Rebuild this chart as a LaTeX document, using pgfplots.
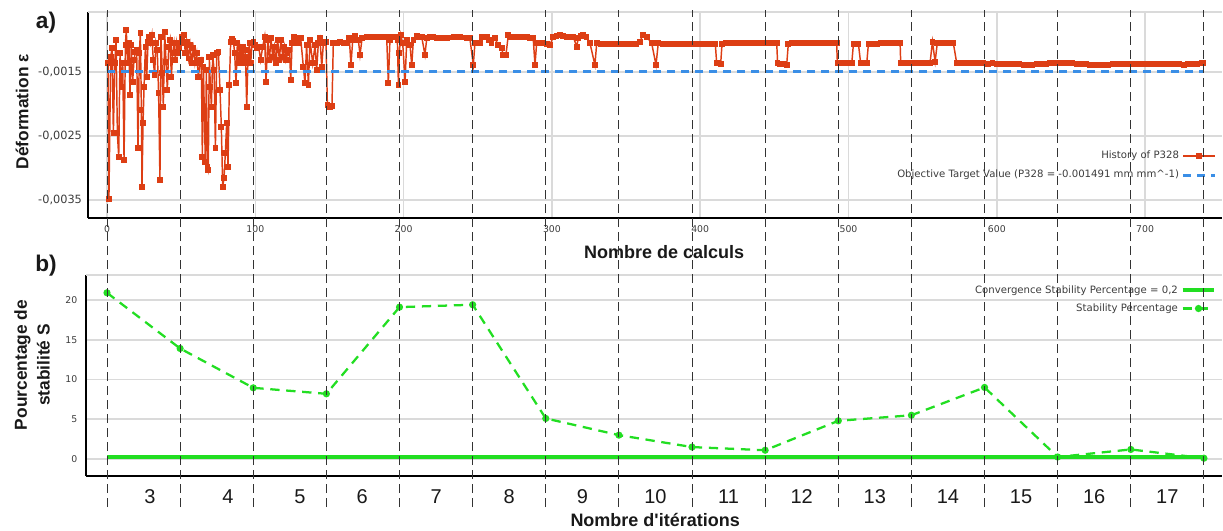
\documentclass[border=0pt]{standalone}
\usepackage{pgfplots}
\pgfplotsset{compat=1.18}
\usepackage{pgfplotstable}
\usepackage{fontspec}
\setmainfont{Liberation Sans}
\newfontfamily\dejavu{DejaVu Sans}
\definecolor{histred}{RGB}{221,62,20}
\definecolor{tgtblue}{RGB}{58,142,230}
\definecolor{stabgreen}{RGB}{34,222,34}
\definecolor{gridgray}{RGB}{218,218,218}
\definecolor{ticktext}{RGB}{60,60,60}
\definecolor{titletext}{RGB}{25,25,25}

\pgfplotstableread{
x y
0.7 -0.001365
1.3 -0.003489
2.5 -0.001260
3.4 -0.001130
4.3 -0.002458
5.2 -0.001365
6.1 -0.001000
7.0 -0.002458
7.9 -0.002823
8.8 -0.001208
9.7 -0.001729
10.6 -0.001365
11.5 -0.002875
12.4 -0.001078
13.0 -0.000844
13.9 -0.001365
14.8 -0.001052
15.5 -0.001859
16.4 -0.001078
17.3 -0.001651
18.2 -0.001313
19.1 -0.001182
20.0 -0.001156
20.9 -0.002693
21.8 -0.001208
22.5 -0.000896
23.2 -0.002094
23.6 -0.003292
24.3 -0.002302
25.0 -0.001729
25.9 -0.001104
26.8 -0.001573
27.7 -0.001026
28.5 -0.000948
29.4 -0.001052
30.3 -0.000922
31.2 -0.001313
32.1 -0.001547
33.0 -0.001052
33.9 -0.001156
34.8 -0.001833
35.7 -0.003187
36.4 -0.000948
37.3 -0.001521
38.0 -0.002042
38.9 -0.000880
39.8 -0.001339
40.7 -0.001781
41.6 -0.001104
42.5 -0.001000
43.4 -0.001573
44.3 -0.001208
45.2 -0.001052
46.1 -0.001313
47.0 -0.001052
47.9 -0.001208
48.8 -0.001130
49.7 -0.001052
50.6 -0.000948
51.9 -0.000922
52.8 -0.001208
53.7 -0.001026
54.9 -0.001287
56.0 -0.001078
57.1 -0.001365
58.2 -0.001130
59.3 -0.001365
60.5 -0.001208
61.6 -0.001573
62.7 -0.001365
63.6 -0.001313
64.3 -0.002823
65.0 -0.001417
65.6 -0.002094
66.3 -0.002901
67.0 -0.001469
67.7 -0.002979
68.3 -0.003031
69.0 -0.001260
69.7 -0.001729
70.4 -0.002042
71.3 -0.001234
72.2 -0.001469
73.1 -0.002693
74.0 -0.001208
75.1 -0.001182
76.2 -0.001781
77.1 -0.002354
78.0 -0.003292
78.9 -0.003161
79.8 -0.002771
80.7 -0.002302
81.6 -0.002979
82.5 -0.001703
83.4 -0.001026
84.3 -0.000990
85.2 -0.001010
86.1 -0.001208
87.0 -0.001677
87.9 -0.001052
88.8 -0.001365
89.7 -0.001130
90.6 -0.001287
91.5 -0.001104
92.4 -0.001365
93.3 -0.001156
94.2 -0.002042
95.1 -0.001260
96.0 -0.001052
96.9 -0.001365
97.8 -0.001052
98.7 -0.001026
99.8 -0.001078
100.9 -0.001130
102.3 -0.001104
103.6 -0.001313
105.0 -0.001104
106.3 -0.000948
107.2 -0.001651
108.4 -0.001000
109.5 -0.001313
110.6 -0.000974
111.7 -0.001260
112.9 -0.001104
114.0 -0.001365
115.1 -0.001000
116.2 -0.001313
117.3 -0.001000
118.5 -0.001260
119.6 -0.001104
120.7 -0.001313
121.8 -0.001208
123.0 -0.001156
123.9 -0.001625
124.8 -0.001052
125.9 -0.000948
127.5 -0.000974
129.0 -0.001052
130.6 -0.000974
132.4 -0.001417
133.5 -0.001677
134.6 -0.001078
135.8 -0.001703
136.9 -0.001000
138.7 -0.001365
140.3 -0.001078
141.4 -0.001469
142.5 -0.001052
143.6 -0.000974
144.8 -0.001417
145.9 -0.001052
147.7 -0.001026
148.6 -0.002016
150.4 -0.002042
151.7 -0.002030
152.6 -0.001052
154.9 -0.001052
157.1 -0.001026
159.4 -0.001052
161.6 -0.001052
163.4 -0.000974
164.5 -0.001391
165.7 -0.001000
167.2 -0.000940
169.5 -0.001000
170.6 -0.001234
172.0 -0.000974
175.1 -0.000948
177.3 -0.000948
179.6 -0.000948
181.8 -0.000948
184.1 -0.000948
186.3 -0.000958
188.6 -0.000958
189.7 -0.001677
190.8 -0.001000
192.5 -0.000958
194.2 -0.000948
195.8 -0.001000
196.5 -0.001703
197.1 -0.001208
198.0 -0.000922
199.4 -0.001052
201.0 -0.001651
202.1 -0.001000
204.3 -0.001078
205.5 -0.001391
206.6 -0.001000
208.8 -0.000940
210.5 -0.000948
212.2 -0.000948
214.4 -0.001234
215.6 -0.000974
218.0 -0.000948
220.1 -0.000948
222.4 -0.000974
224.6 -0.000974
226.9 -0.000974
229.1 -0.000974
231.5 -0.000960
234.0 -0.000948
236.0 -0.000948
238.0 -0.000948
240.2 -0.000960
242.4 -0.000974
244.7 -0.000974
247.0 -0.001391
248.1 -0.001052
250.0 -0.001052
251.5 -0.001052
252.6 -0.000948
254.3 -0.000948
256.0 -0.000948
257.6 -0.001000
259.3 -0.001052
261.6 -0.000974
263.8 -0.001078
266.1 -0.001130
267.2 -0.001234
269.0 -0.001234
270.6 -0.000922
272.3 -0.000948
274.0 -0.000948
276.2 -0.000948
278.5 -0.000948
280.7 -0.000958
283.0 -0.000958
285.2 -0.000974
287.4 -0.000974
288.6 -0.001391
289.7 -0.001052
292.0 -0.001052
294.2 -0.001052
296.5 -0.001063
298.7 -0.001078
300.9 -0.000948
303.1 -0.000935
305.4 -0.000922
307.6 -0.000935
309.9 -0.000948
312.1 -0.000948
314.4 -0.000948
316.7 -0.001104
317.8 -0.000974
319.5 -0.000935
321.2 -0.000922
323.4 -0.000948
325.7 -0.001052
329.0 -0.001391
330.2 -0.001052
333.0 -0.001063
336.0 -0.001063
339.0 -0.001063
342.0 -0.001063
345.0 -0.001063
348.0 -0.001063
351.0 -0.001063
354.0 -0.001063
357.0 -0.001063
359.4 -0.001026
361.2 -0.000922
363.9 -0.000948
367.3 -0.001052
370.2 -0.001391
371.7 -0.001052
374.5 -0.001063
377.5 -0.001063
380.5 -0.001063
383.5 -0.001063
386.5 -0.001063
389.5 -0.001063
392.5 -0.001063
395.5 -0.001063
398.5 -0.001063
401.5 -0.001063
404.5 -0.001063
407.5 -0.001063
410.2 -0.001063
411.1 -0.001365
413.8 -0.001375
414.7 -0.001063
417.5 -0.001052
420.5 -0.001052
423.5 -0.001052
426.5 -0.001052
429.5 -0.001052
432.5 -0.001052
435.5 -0.001052
438.5 -0.001052
441.5 -0.001052
444.5 -0.001052
447.5 -0.001052
450.5 -0.001052
451.6 -0.001052
452.2 -0.001365
454.0 -0.001370
456.0 -0.001375
458.3 -0.001391
459.4 -0.001063
462.0 -0.001052
465.0 -0.001052
468.0 -0.001052
471.0 -0.001052
474.0 -0.001052
477.0 -0.001052
480.0 -0.001052
483.0 -0.001052
486.0 -0.001052
489.0 -0.001052
492.0 -0.001052
492.5 -0.001365
495.5 -0.001365
498.5 -0.001365
502.2 -0.001365
503.3 -0.001063
506.7 -0.001063
508.2 -0.001365
510.3 -0.001365
512.3 -0.001365
513.4 -0.001063
516.0 -0.001058
519.0 -0.001058
522.0 -0.001052
525.0 -0.001052
528.0 -0.001052
531.0 -0.001052
534.8 -0.001052
535.2 -0.001365
538.0 -0.001365
541.0 -0.001365
544.0 -0.001365
547.0 -0.001365
550.0 -0.001365
553.0 -0.001365
555.0 -0.001354
556.6 -0.001026
558.4 -0.001339
559.9 -0.001042
562.5 -0.001052
565.5 -0.001052
568.5 -0.001052
570.7 -0.001052
573.0 -0.001365
576.0 -0.001365
579.0 -0.001365
582.0 -0.001365
585.0 -0.001365
588.0 -0.001365
589.8 -0.001354
590.9 -0.001365
594.0 -0.001370
597.0 -0.001365
600.0 -0.001370
603.0 -0.001375
606.0 -0.001370
609.0 -0.001380
612.0 -0.001375
615.0 -0.001380
618.0 -0.001390
621.0 -0.001396
624.0 -0.001385
627.0 -0.001375
630.0 -0.001380
633.0 -0.001370
636.0 -0.001365
639.0 -0.001365
642.0 -0.001354
645.0 -0.001365
648.0 -0.001360
651.0 -0.001365
654.0 -0.001370
657.0 -0.001375
660.0 -0.001375
663.0 -0.001385
666.0 -0.001396
669.0 -0.001390
672.0 -0.001385
675.0 -0.001386
678.0 -0.001380
681.0 -0.001375
684.0 -0.001375
687.0 -0.001380
690.0 -0.001375
693.0 -0.001380
696.0 -0.001375
699.0 -0.001370
702.0 -0.001375
705.0 -0.001375
708.0 -0.001380
711.0 -0.001375
714.0 -0.001370
717.0 -0.001375
720.0 -0.001380
723.0 -0.001375
726.0 -0.001386
729.0 -0.001380
732.0 -0.001375
735.0 -0.001370
738.0 -0.001365
739.3 -0.001365
}\histdata

\pgfplotstableread{
x s
0 20.9
49.31 13.9
98.62 8.95
147.93 8.2
197.24 19.1
246.55 19.4
295.86 5.1
345.17 3.0
394.48 1.5
443.79 1.1
493.1 4.8
542.41 5.5
591.72 9.0
641.03 0.25
690.34 1.2
739.65 0.1
}\stabdata

\pgfplotsset{
  longlegend/.style={
    legend image code/.code={%
      \draw[mark repeat=2,mark phase=2,##1]
        plot coordinates {(0cm,0cm) (0.42cm,0cm) (0.84cm,0cm)};}%
  },
}

\begin{document}
\begin{tikzpicture}
\useasboundingbox (0pt,0pt) rectangle (917.25pt,-398.25pt);

% ---------- top axis a) ----------
\begin{axis}[
  at={(66pt,-163.5pt)}, anchor=south west,
  scale only axis, width=850.5pt, height=154.5pt,
  xmin=-12.81, xmax=751.85,
  ymin=-0.003781, ymax=-0.0005625,
  axis x line*=bottom, axis y line*=left,
  axis line style={line width=2.2pt, black, -},
  xtick={0,100,200,300,400,500,600,700},
  xticklabels={0,100,200,300,400,500,600,700},
  ytick={-0.0035,-0.0025,-0.0015},
  yticklabels={{-0,0035},{-0,0025},{-0,0015}},
  scaled y ticks=false, scaled x ticks=false,
  extra y ticks={-0.0005625}, extra y tick labels={},
  extra y tick style={grid=major},
  xmajorgrids, ymajorgrids,
  major grid style={gridgray, line width=1.2pt},
  major tick length=0pt,
  xticklabel style={font=\dejavu\fontsize{7}{8}\selectfont, text=ticktext, yshift=-2pt},
  yticklabel style={font=\dejavu\fontsize{8.5}{9}\selectfont, text=ticktext, xshift=-1pt},
  xlabel={Nombre de calculs},
  xlabel style={at={(axis description cs:0.508,-0.165)}, anchor=center,
    font=\bfseries\fontsize{13.5}{15}\selectfont, text=titletext},
  ylabel={Déformation ε},
  ylabel style={at={(axis description cs:-0.0582,0.515)}, anchor=center,
    font=\bfseries\fontsize{13}{15}\selectfont, text=titletext},
  legend plot pos=right,
  legend cell align=right,
  legend style={at={(axis description cs:0.9965,0.345)}, anchor=north east,
    draw=none, fill=none, font=\dejavu\fontsize{7.6}{8}\selectfont, text=ticktext,
    row sep=3pt, inner sep=1pt},
]
\addplot[histred, line width=1.1pt, mark=square*, mark size=1.6pt, mark options={solid}, longlegend]
  table[x=x, y=y] {\histdata};
\addlegendentry{History of P328}
\addplot[tgtblue, line width=2.2pt, dash pattern=on 6pt off 4.5pt, longlegend]
  coordinates {(0,-0.001491) (740,-0.001491)};
\addlegendentry{Objective Target Value (P328 = -0.001491 mm mm\textasciicircum-1)}
\end{axis}

% ---------- bottom axis b) ----------
\begin{axis}[
  at={(64.5pt,-357pt)}, anchor=south west,
  scale only axis, width=852pt, height=150.75pt,
  xmin=-14.16, xmax=751.85,
  ymin=-2.14, ymax=23.14,
  axis x line*=bottom, axis y line*=left,
  axis line style={line width=2.2pt, black, -},
  xtick={29.0,81.6,130.1,172.0,221.9,271.21,320.52,369.83,419.14,468.45,517.76,567.07,616.38,665.69,715.0},
  xticklabels={3,4,5,6,7,8,9,10,11,12,13,14,15,16,17},
  ytick={0,5,10,15,20},
  yticklabels={0,5,10,15,20},
  extra y ticks={23.14}, extra y tick labels={},
  extra y tick style={grid=major},
  ymajorgrids,
  major grid style={gridgray, line width=1.2pt},
  major tick length=0pt,
  xticklabel style={font=\fontsize{15}{16}\selectfont, text=titletext, yshift=-6.5pt},
  yticklabel style={font=\dejavu\fontsize{7}{8}\selectfont, text=ticktext, xshift=-3pt},
  xlabel={Nombre d\textquotesingle itérations},
  xlabel style={at={(axis description cs:0.501,-0.219)}, anchor=center,
    font=\bfseries\fontsize{13.5}{15}\selectfont, text=titletext},
  ylabel={Pourcentage de\\stabilité S},
  ylabel style={at={(axis description cs:-0.0475,0.552)}, anchor=center, align=center,
    font=\bfseries\fontsize{13}{17}\selectfont, text=titletext},
  legend plot pos=right,
  legend cell align=right,
  legend style={at={(axis description cs:0.9965,0.97)}, anchor=north east,
    draw=none, fill=none, font=\dejavu\fontsize{7.6}{8}\selectfont, text=ticktext,
    row sep=2.5pt, inner sep=1pt},
]
\addplot[stabgreen, line width=3pt, longlegend] coordinates {(0,0.2) (739.65,0.2)};
\addlegendentry{Convergence Stability Percentage = 0,2}
\addplot[stabgreen, line width=1.7pt, dash pattern=on 7pt off 5pt, mark=*, mark size=1.8pt, mark options={solid}, longlegend]
  table[x=x, y=s] {\stabdata};
\addlegendentry{Stability Percentage}
\end{axis}

% ---------- dashed iteration separators (overlay) ----------
\begin{axis}[
  at={(66pt,-380.25pt)}, anchor=south west,
  scale only axis, width=850.5pt, height=372.75pt,
  xmin=-12.81, xmax=751.85, ymin=0, ymax=1,
  axis line style={draw=none},
  xtick={0,49.31,98.62,147.93,197.24,246.55,295.86,345.17,394.48,443.79,493.1,542.41,591.72,641.03,690.34,739.65},
  xticklabels={}, ytick=\empty,
  major tick length=0pt,
  xmajorgrids,
  major grid style={black!80, line width=0.7pt, dash pattern=on 6.5pt off 4pt},
]
\end{axis}

\node[font=\bfseries\fontsize{17}{18}\selectfont, text=titletext] at (34.5pt,-17.25pt) {a)};
\node[font=\bfseries\fontsize{17}{18}\selectfont, text=titletext] at (34.5pt,-199.5pt) {b)};
\end{tikzpicture}
\end{document}
